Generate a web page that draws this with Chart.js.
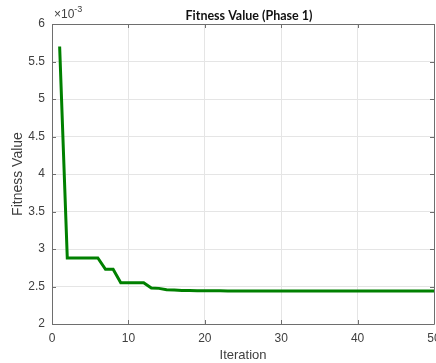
<!DOCTYPE html>
<html>
<head>
<meta charset="utf-8">
<script src="https://cdn.jsdelivr.net/npm/chart.js@4.4.1/dist/chart.umd.min.js"></script>
<style>
  html, body { margin: 0; padding: 0; background: #fff; }
  #wrap { width: 436px; height: 363px; position: relative; }
</style>
</head>
<body>
<div id="wrap"><canvas id="chart" width="436" height="363"></canvas></div>
<script>
// --- DATA ---
const chartTitle = 'Fitness Value (Phase 1)';
const xLabel = 'Iteration';
const yLabel = 'Fitness Value';
const iterations = [
  1, 2, 3, 4, 5, 6, 7, 8, 9, 10,
  11, 12, 13, 14, 15, 16, 17, 18, 19, 20,
  21, 22, 23, 24, 25, 26, 27, 28, 29, 30,
  31, 32, 33, 34, 35, 36, 37, 38, 39, 40,
  41, 42, 43, 44, 45, 46, 47, 48, 49, 50
];
// fitness, in units of 1e-3
const fitness = [
  5.70, 2.88, 2.88, 2.88, 2.88, 2.88, 2.73, 2.73, 2.55, 2.55,
  2.55, 2.55, 2.48, 2.475, 2.458, 2.452, 2.448, 2.446, 2.444, 2.443,
  2.442, 2.442, 2.441, 2.441, 2.441, 2.44, 2.44, 2.44, 2.44, 2.44,
  2.44, 2.44, 2.44, 2.44, 2.44, 2.44, 2.44, 2.44, 2.44, 2.44,
  2.44, 2.44, 2.44, 2.44, 2.44, 2.44, 2.44, 2.44, 2.44, 2.44
];
const xTicks = [0, 10, 20, 30, 40, 50];
const yTicks = [2, 2.5, 3, 3.5, 4, 4.5, 5, 5.5, 6];
const exponent = '-3';

const gridColor = '#e5e5e5';
const textColor = '#404040';
const fontFam = '"Liberation Sans", Arial, Helvetica, sans-serif';

// --- MATLAB-like box, inward ticks, title and exponent ---
const matlabAxes = {
  id: 'matlabAxes',
  afterDraw(chart) {
    const { ctx, chartArea: a, scales } = chart;
    ctx.save();
    ctx.strokeStyle = '#6e6e6e';
    ctx.lineWidth = 1;
    ctx.beginPath();
    ctx.rect(Math.round(a.left) + 0.5, Math.round(a.top) + 0.5,
             Math.round(a.right - a.left), Math.round(a.bottom - a.top));
    ctx.stroke();
    const tl = 4;
    ctx.beginPath();
    xTicks.forEach(v => {
      const px = Math.round(scales.x.getPixelForValue(v)) + 0.5;
      ctx.moveTo(px, a.bottom); ctx.lineTo(px, a.bottom - tl);
      ctx.moveTo(px, a.top); ctx.lineTo(px, a.top + tl);
    });
    yTicks.forEach(v => {
      const py = Math.round(scales.y.getPixelForValue(v)) + 0.5;
      ctx.moveTo(a.left, py); ctx.lineTo(a.left + tl, py);
      ctx.moveTo(a.right, py); ctx.lineTo(a.right - tl, py);
    });
    ctx.stroke();

    // title
    ctx.fillStyle = '#111';
    ctx.font = 'bold 12.5px Lato, "Open Sans", sans-serif';
    ctx.textAlign = 'center';
    ctx.textBaseline = 'alphabetic';
    ctx.fillText(chartTitle, 249, 20);

    // exponent
    ctx.fillStyle = textColor;
    ctx.textAlign = 'left';
    ctx.font = '12px ' + fontFam;
    ctx.fillText('\u00d710', a.left + 2, 18);
    const w = ctx.measureText('\u00d710').width;
    ctx.font = '9px ' + fontFam;
    ctx.fillText(exponent, a.left + 2 + w, 12);
    ctx.restore();
  }
};

new Chart(document.getElementById('chart'), {
  type: 'line',
  data: {
    datasets: [{
      data: iterations.map((x, i) => ({ x: x, y: fitness[i] })),
      borderColor: '#008000',
      borderWidth: 3,
      pointRadius: 0,
      fill: false,
      tension: 0
    }]
  },
  options: {
    responsive: false,
    animation: false,
    layout: { padding: { top: 24, right: 2, left: 0, bottom: 0 } },
    plugins: { legend: { display: false }, tooltip: { enabled: false } },
    scales: {
      x: {
        type: 'linear', min: 0, max: 50,
        afterBuildTicks: s => { s.ticks = xTicks.map(v => ({ value: v })); },
        afterFit: s => { s.height = 39; s.paddingRight = 0; s.paddingLeft = 0; },
        grid: { color: gridColor, drawTicks: false },
        border: { display: false },
        ticks: { color: textColor, font: { size: 12, family: fontFam }, padding: 7, maxRotation: 0 },
        title: { display: true, text: xLabel, color: textColor, font: { size: 13, family: fontFam }, padding: { top: 0, bottom: 0 } }
      },
      y: {
        type: 'linear', min: 2, max: 6,
        afterBuildTicks: s => { s.ticks = yTicks.map(v => ({ value: v })); },
        afterFit: s => { s.width = 52; s.paddingTop = 0; s.paddingBottom = 0; },
        grid: { color: gridColor, drawTicks: false },
        border: { display: false },
        ticks: { color: textColor, font: { size: 12, family: fontFam }, padding: 7, callback: v => String(v) },
        title: { display: true, text: yLabel, color: textColor, font: { size: 14, family: fontFam }, padding: { top: 10, bottom: 0 } }
      }
    }
  },
  plugins: [matlabAxes]
});
</script>
</body>
</html>
